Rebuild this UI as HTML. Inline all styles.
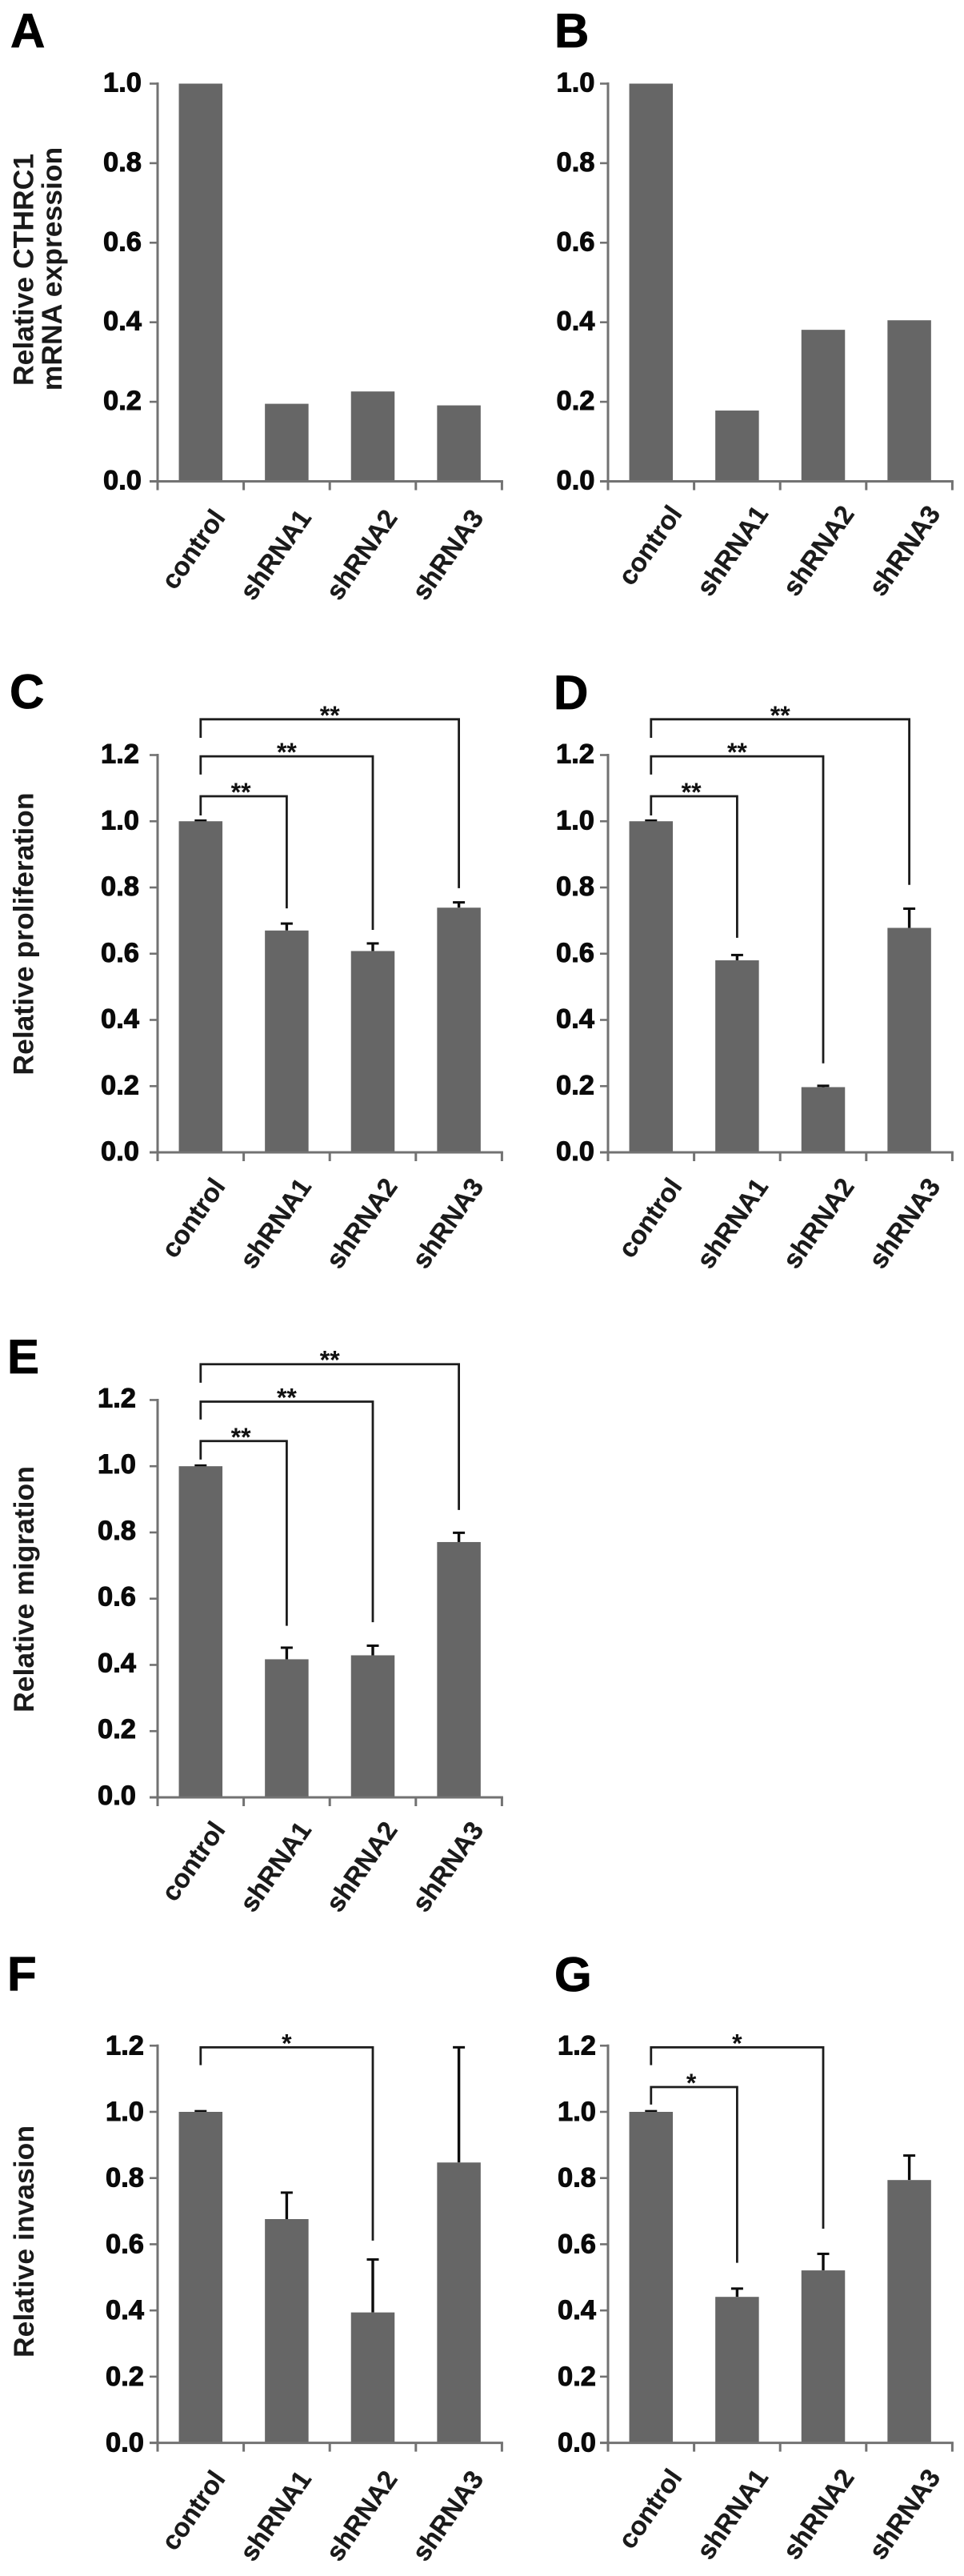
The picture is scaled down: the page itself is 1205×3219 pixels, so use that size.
<!DOCTYPE html>
<html lang="en">
<head>
<meta charset="utf-8">
<title>CTHRC1 knockdown bar charts</title>
<style>
  html,body{margin:0;padding:0;background:#fff;}
  body{width:1205px;height:3219px;overflow:hidden;}
  svg{display:block;}
  text{font-family:"Liberation Sans",Arial,sans-serif;font-weight:bold;fill:#111;}
  .letter{font-size:60px;fill:#000;stroke:#000;stroke-width:.8px;}
  .ytitle{font-size:35.5px;fill:#1a1a1a;}
  .tick{font-size:34.5px;fill:#0a0a0a;stroke:#0a0a0a;stroke-width:1px;}
  .cat{font-size:33px;fill:#1a1a1a;stroke:#1a1a1a;stroke-width:.3px;}
  .star{font-size:32px;fill:#111;}
</style>
</head>
<body>
<svg id="fig" xmlns="http://www.w3.org/2000/svg" width="1205" height="3219" viewBox="0 0 1205 3219">
  <rect x="0" y="0" width="1205" height="3219" fill="#fff"/>
  <text class="letter" x="13" y="59">A</text>
  <text class="letter" x="693" y="59">B</text>
  <text class="letter" x="12" y="885">C</text>
  <text class="letter" x="692" y="886">D</text>
  <text class="letter" x="9" y="1716">E</text>
  <text class="letter" x="9" y="2487">F</text>
  <text class="letter" x="693" y="2488">G</text>

  <text class="ytitle" text-anchor="middle" transform="translate(41.5 337) rotate(-90)">Relative CTHRC1</text>
  <text class="ytitle" text-anchor="middle" transform="translate(77 336) rotate(-90)">mRNA expression</text>
  <text class="ytitle" text-anchor="middle" transform="translate(41.5 1167) rotate(-90)">Relative proliferation</text>
  <text class="ytitle" text-anchor="middle" transform="translate(42 1986) rotate(-90)">Relative migration</text>
  <text class="ytitle" text-anchor="middle" transform="translate(42 2801) rotate(-90)">Relative invasion</text>
</svg>
<script>
const categories = ['control', 'shRNA1', 'shRNA2', 'shRNA3'];
const ticksShort = [0, 0.2, 0.4, 0.6, 0.8, 1.0];
const ticksTall = [0, 0.2, 0.4, 0.6, 0.8, 1.0, 1.2];

const valuesA = [1.0, 0.195, 0.226, 0.191];
const valuesB = [1.0, 0.178, 0.381, 0.405];

const valuesC = [1.0, 0.670, 0.608, 0.739];
const errorTopC = [1.002, 0.691, 0.631, 0.755];
const bracketToC = [1, 2, 3];
const bracketLevelC = [1.0755, 1.196, 1.308];
const bracketLegC = [1.0175, 1.141, 1.252];
const bracketDropC = [0.737, 0.672, 0.798];
const bracketStarsC = ['**', '**', '**'];

const valuesD = [1.0, 0.580, 0.197, 0.678];
const errorTopD = [1.002, 0.596, 0.201, 0.736];
const bracketToD = [1, 2, 3];
const bracketLevelD = [1.0755, 1.196, 1.308];
const bracketLegD = [1.0175, 1.141, 1.252];
const bracketDropD = [0.648, 0.269, 0.808];
const bracketStarsD = ['**', '**', '**'];

const valuesE = [1.0, 0.417, 0.429, 0.771];
const errorTopE = [1.002, 0.452, 0.458, 0.799];
const bracketToE = [1, 2, 3];
const bracketLevelE = [1.076, 1.195, 1.308];
const bracketLegE = [1.020, 1.141, 1.252];
const bracketDropE = [0.518, 0.529, 0.868];
const bracketStarsE = ['**', '**', '**'];

const valuesF = [1.0, 0.676, 0.394, 0.847];
const errorTopF = [1.002, 0.756, 0.554, 1.195];
const bracketToF = [2];
const bracketLevelF = [1.195];
const bracketLegF = [1.141];
const bracketDropF = [0.611];
const bracketStarsF = ['*'];

const valuesG = [1.0, 0.441, 0.521, 0.794];
const errorTopG = [1.002, 0.466, 0.571, 0.868];
const bracketToG = [1, 2];
const bracketLevelG = [1.075, 1.195];
const bracketLegG = [1.022, 1.141];
const bracketDropG = [0.544, 0.647];
const bracketStarsG = ['*', '*'];

const NS = 'http://www.w3.org/2000/svg';
const root = document.getElementById('fig');
const BAND = 107.6;
const BAR_W = 54.5;
const AXIS = '#727272';
const INK = '#1c1c1c';

function make(parent, tag, attrs) {
  const node = document.createElementNS(NS, tag);
  for (const k in attrs) node.setAttribute(k, attrs[k]);
  parent.appendChild(node);
  return node;
}

function drawPanel(id, geo, ticks, values, errorTop, bTo, bLevel, bLeg, bDrop, bStars) {
  const yScale = v => geo.y0 - v * geo.unit;
  const xBand = i => geo.x0 + BAND * i;
  const xCenter = i => geo.x0 + BAND * (i + 0.5);

  const g = make(root, 'g', {});
  
  

  values.forEach((v, i) => {
    if (errorTop) {
      const stem = make(g, 'line', {x1: xCenter(i), x2: xCenter(i), y1: yScale(v), y2: yScale(errorTop[i]), stroke: '#0c0c0c', 'stroke-width': 3.4});
      
      
      const cap = make(g, 'line', {x1: xCenter(i) - 7.5, x2: xCenter(i) + 7.5, y1: yScale(errorTop[i]), y2: yScale(errorTop[i]), stroke: '#0c0c0c', 'stroke-width': 3});
      
      
    }
    const bar = make(g, 'rect', {x: xCenter(i) - BAR_W / 2, y: yScale(v), width: BAR_W, height: geo.y0 - yScale(v), fill: '#666666'});
    
    
  });

  const yAxis = make(g, 'line', {x1: geo.x0, x2: geo.x0, y1: yScale(ticks[ticks.length - 1]) - 1.5, y2: geo.y0 + 1.5, stroke: AXIS, 'stroke-width': 3});
  
  
  const xAxis = make(g, 'line', {x1: geo.x0 - 10, x2: xBand(categories.length) + 1.5, y1: geo.y0, y2: geo.y0, stroke: AXIS, 'stroke-width': 3});
  
  

  ticks.forEach(t => {
    const mark = make(g, 'line', {x1: geo.x0 - 10, x2: geo.x0, y1: yScale(t), y2: yScale(t), stroke: AXIS, 'stroke-width': 2.6});
    
    
    const label = make(g, 'text', {x: geo.tickRight, y: yScale(t) + geo.tickDy, 'text-anchor': 'end', class: 'tick'});
    label.textContent = t.toFixed(1);
    
    
  });

  for (let i = 0; i <= categories.length; i++) {
    const mark = make(g, 'line', {x1: xBand(i), x2: xBand(i), y1: geo.y0, y2: geo.y0 + 11, stroke: AXIS, 'stroke-width': 3});
    
    
  }

  categories.forEach((c, i) => {
    const bx = xCenter(i) + geo.catDx;
    const by = geo.y0 + geo.catDy;
    const label = make(g, 'text', {x: bx, y: by, 'text-anchor': 'end', class: 'cat', transform: 'rotate(-55 ' + bx + ' ' + by + ')'});
    label.textContent = c;
    
    
  });

  if (bTo) {
    bTo.forEach((to, i) => {
      const left = xCenter(0);
      const right = xCenter(to);
      const d = 'M' + left + ' ' + yScale(bLeg[i]) + ' V' + yScale(bLevel[i]) + ' H' + right + ' V' + yScale(bDrop[i]);
      const path = make(g, 'path', {d: d, fill: 'none', stroke: INK, 'stroke-width': 2.8});
      
      
      const nudge = to === 1 ? -3.5 : 0;
      const star = make(g, 'text', {x: (left + right) / 2 + nudge, y: yScale(bLevel[i]) + 6, 'text-anchor': 'middle', class: 'star'});
      star.textContent = bStars[i];
      
      
    });
  }
}

drawPanel('a', {x0: 197, y0: 601.5, unit: 497, tickRight: 177, tickDy: 10, catDx: 32, catDy: 45.5}, ticksShort, valuesA);
drawPanel('b', {x0: 760, y0: 601.5, unit: 497, tickRight: 743.5, tickDy: 10, catDx: 40, catDy: 40.5}, ticksShort, valuesB);
drawPanel('c', {x0: 197, y0: 1440, unit: 413.75, tickRight: 174, tickDy: 10, catDx: 32, catDy: 42.5}, ticksTall, valuesC, errorTopC, bracketToC, bracketLevelC, bracketLegC, bracketDropC, bracketStarsC);
drawPanel('d', {x0: 760, y0: 1440, unit: 413.75, tickRight: 743, tickDy: 10, catDx: 40, catDy: 42.5}, ticksTall, valuesD, errorTopD, bracketToD, bracketLevelD, bracketLegD, bracketDropD, bracketStarsD);
drawPanel('e', {x0: 197, y0: 2246, unit: 413.8, tickRight: 170, tickDy: 9, catDx: 32, catDy: 40.5}, ticksTall, valuesE, errorTopE, bracketToE, bracketLevelE, bracketLegE, bracketDropE, bracketStarsE);
drawPanel('f', {x0: 197, y0: 3052.6, unit: 413.6, tickRight: 180, tickDy: 11, catDx: 32, catDy: 45}, ticksTall, valuesF, errorTopF, bracketToF, bracketLevelF, bracketLegF, bracketDropF, bracketStarsF);
drawPanel('g', {x0: 760, y0: 3052.6, unit: 413.6, tickRight: 745, tickDy: 11, catDx: 40, catDy: 43}, ticksTall, valuesG, errorTopG, bracketToG, bracketLevelG, bracketLegG, bracketDropG, bracketStarsG);
</script>
</body>
</html>
